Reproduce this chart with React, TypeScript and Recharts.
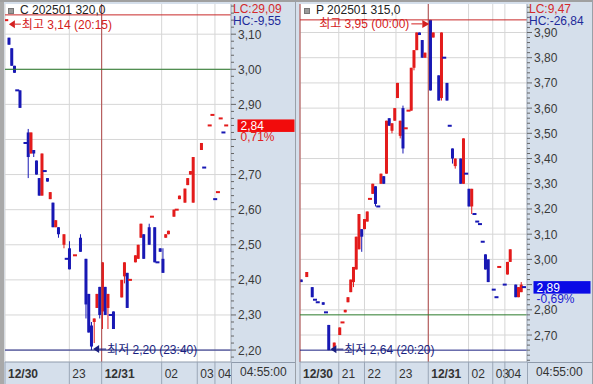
import {
  ComposedChart, Bar, XAxis, YAxis, CartesianGrid,
  ReferenceLine, ReferenceDot,
} from 'recharts'

const FONT = "'Liberation Sans', 'Noto Sans CJK KR', sans-serif"
const RED = '#e31b1b'
const BLUE = '#1818b4'
const AXIS_BG = '#d5dfeb'
const GRID = '#d6d6d6'

// C 202501 320.0 (left)
const cSlot = [0, 1, 2, 3, 4, 5, 7, 8, 9, 10, 11, 12, 13, 14, 15, 16, 17, 18, 19, 21, 22, 23, 25, 27, 29, 30, 31, 32, 33, 34, 35, 36, 37, 38, 39, 42, 43, 44, 45, 47, 48, 49, 50, 52, 53, 54, 55, 56, 57, 58, 59, 61, 62, 63, 65, 66, 67, 68, 71, 72, 74, 75, 76, 77, 78, 79, 80]
const cOpen = [3.14, 3.09, 3.06, 3.01, 2.94, 2.94, 2.79, 2.82, 2.76, 2.77, 2.74, 2.69, 2.64, 2.71, 2.69, 2.63, 2.62, 2.55, 2.55, 2.50, 2.46, 2.49, 2.47, 2.52, 2.46, 2.36, 2.27, 2.28, 2.32, 2.38, 2.31, 2.38, 2.32, 2.30, 2.31, 2.35, 2.41, 2.42, 2.40, 2.45, 2.46, 2.52, 2.53, 2.55, 2.58, 2.55, 2.45, 2.49, 2.46, 2.52, 2.53, 2.58, 2.60, 2.63, 2.62, 2.67, 2.70, 2.62, 2.77, 2.72, 2.84, 2.87, 2.63, 2.65, 2.86, 2.82, 2.84]
const cHigh = [3.14, 3.09, 3.06, 3.01, 2.94, 2.94, 2.79, 2.83, 2.82, 2.77, 2.74, 2.69, 2.76, 2.71, 2.69, 2.65, 2.62, 2.57, 2.55, 2.53, 2.46, 2.51, 2.47, 2.53, 2.46, 2.36, 2.28, 2.29, 2.36, 2.38, 2.45, 2.38, 2.36, 2.30, 2.31, 2.40, 2.45, 2.42, 2.40, 2.47, 2.50, 2.56, 2.53, 2.56, 2.58, 2.55, 2.45, 2.49, 2.49, 2.53, 2.54, 2.60, 2.60, 2.64, 2.66, 2.69, 2.71, 2.75, 2.79, 2.72, 2.84, 2.87, 2.63, 2.65, 2.86, 2.82, 2.84]
const cLow = [3.14, 3.07, 3.01, 2.99, 2.94, 2.89, 2.79, 2.69, 2.76, 2.75, 2.70, 2.64, 2.64, 2.71, 2.68, 2.63, 2.55, 2.55, 2.52, 2.49, 2.46, 2.43, 2.47, 2.48, 2.29, 2.25, 2.20, 2.22, 2.32, 2.29, 2.26, 2.30, 2.26, 2.30, 2.26, 2.35, 2.39, 2.32, 2.40, 2.45, 2.46, 2.52, 2.46, 2.50, 2.58, 2.45, 2.45, 2.48, 2.42, 2.52, 2.53, 2.58, 2.60, 2.63, 2.62, 2.67, 2.70, 2.62, 2.77, 2.72, 2.84, 2.87, 2.63, 2.65, 2.86, 2.82, 2.84]
const cClose = [3.14, 3.07, 3.01, 2.99, 2.94, 2.89, 2.79, 2.75, 2.82, 2.76, 2.70, 2.64, 2.76, 2.71, 2.68, 2.65, 2.55, 2.57, 2.53, 2.53, 2.46, 2.43, 2.47, 2.48, 2.33, 2.25, 2.21, 2.29, 2.36, 2.30, 2.45, 2.30, 2.36, 2.30, 2.26, 2.40, 2.45, 2.32, 2.40, 2.47, 2.50, 2.56, 2.46, 2.50, 2.58, 2.45, 2.45, 2.48, 2.42, 2.53, 2.54, 2.60, 2.60, 2.64, 2.66, 2.69, 2.71, 2.75, 2.79, 2.72, 2.84, 2.87, 2.63, 2.65, 2.86, 2.82, 2.84]
const cDateTicks = [-0.5, 22.9, 34.66, 56.48, 69.43, 75.86]
const cDateLabels = ['12/30', '23', '12/31', '02', '03', '04']
const cPriceTicks = [2.2, 2.3, 2.4, 2.5, 2.6, 2.7, 2.8, 2.9, 3.0, 3.1]

// P 202501 315.0 (right)
const pSlot = [0, 2, 4, 5, 6, 8, 9, 10, 12, 14, 15, 16, 17, 18, 19, 20, 21, 22, 23, 24, 25, 26, 27, 28, 29, 30, 31, 32, 33, 34, 35, 36, 37, 38, 39, 40, 41, 42, 43, 44, 45, 47, 48, 50, 51, 52, 53, 54, 55, 56, 58, 59, 60, 61, 62, 63, 64, 65, 66, 67, 68, 70, 71, 72, 74, 75, 76, 78, 79, 80, 81]
const pOpen = [2.92, 2.93, 2.89, 2.84, 2.83, 2.83, 2.79, 2.74, 2.65, 2.70, 2.75, 2.79, 2.83, 2.87, 2.91, 2.96, 3.04, 3.12, 3.12, 3.15, 3.24, 3.26, 3.29, 3.21, 3.30, 3.33, 3.34, 3.56, 3.51, 3.55, 3.64, 3.49, 3.60, 3.52, 3.59, 3.59, 3.76, 3.83, 3.90, 3.87, 3.80, 3.95, 3.88, 3.73, 3.64, 3.80, 3.70, 3.53, 3.44, 3.37, 3.40, 3.30, 3.34, 3.28, 3.21, 3.18, 3.15, 3.14, 3.07, 3.02, 3.00, 2.88, 2.85, 2.97, 2.90, 2.94, 2.99, 2.90, 2.85, 2.87, 2.89]
const pHigh = [2.92, 2.95, 2.89, 2.84, 2.83, 2.83, 2.79, 2.74, 2.67, 2.73, 2.75, 2.80, 2.85, 2.92, 2.97, 3.09, 3.18, 3.12, 3.16, 3.19, 3.24, 3.30, 3.29, 3.21, 3.34, 3.33, 3.55, 3.56, 3.54, 3.60, 3.70, 3.55, 3.61, 3.52, 3.59, 3.76, 3.83, 3.90, 3.90, 3.87, 3.82, 3.95, 3.90, 3.73, 3.90, 3.80, 3.70, 3.53, 3.44, 3.40, 3.40, 3.48, 3.34, 3.28, 3.28, 3.18, 3.15, 3.14, 3.07, 3.02, 3.00, 2.88, 2.85, 2.97, 2.90, 2.99, 3.04, 2.90, 2.89, 2.91, 2.89]
const pLow = [2.91, 2.93, 2.85, 2.84, 2.83, 2.82, 2.79, 2.64, 2.65, 2.70, 2.75, 2.79, 2.83, 2.87, 2.89, 2.96, 3.04, 3.03, 3.12, 3.15, 3.24, 3.26, 3.21, 3.21, 3.30, 3.30, 3.34, 3.53, 3.50, 3.55, 3.64, 3.48, 3.42, 3.52, 3.59, 3.59, 3.75, 3.83, 3.89, 3.80, 3.80, 3.67, 3.88, 3.63, 3.63, 3.80, 3.63, 3.53, 3.38, 3.36, 3.30, 3.30, 3.34, 3.21, 3.18, 3.18, 3.15, 3.14, 3.07, 2.96, 2.91, 2.88, 2.85, 2.97, 2.90, 2.94, 2.99, 2.85, 2.85, 2.87, 2.89]
const pClose = [2.91, 2.95, 2.85, 2.84, 2.83, 2.82, 2.79, 2.64, 2.67, 2.73, 2.75, 2.80, 2.85, 2.92, 2.97, 3.09, 3.18, 3.09, 3.16, 3.19, 3.24, 3.30, 3.22, 3.21, 3.34, 3.30, 3.55, 3.53, 3.54, 3.60, 3.70, 3.55, 3.44, 3.52, 3.59, 3.76, 3.83, 3.90, 3.89, 3.80, 3.82, 3.67, 3.90, 3.63, 3.90, 3.80, 3.63, 3.53, 3.40, 3.40, 3.30, 3.48, 3.34, 3.21, 3.28, 3.18, 3.15, 3.14, 3.07, 2.96, 2.91, 2.88, 2.85, 2.97, 2.90, 2.99, 3.04, 2.85, 2.89, 2.90, 2.89]
const pDateTicks = [-0.5, 13.6, 22.95, 34.4, 46.15, 60.8, 69.6, 74.0]
const pDateLabels = ['12/30', '21', '22', '23', '12/31', '02', '03', '04']
const pPriceTicks = [2.7, 2.8, 2.9, 3.0, 3.1, 3.2, 3.3, 3.4, 3.5, 3.6, 3.7, 3.8, 3.9]

interface Candle { s: number; o: number; h: number; l: number; c: number; up: boolean }
interface Extreme { s: number; v: number; time: string }

function buildCandles(slot: number[], o: number[], h: number[], l: number[], c: number[]): Candle[] {
  let prevUp = true
  return slot.map((s, i) => {
    let up: boolean
    if (c[i] > o[i]) up = true
    else if (c[i] < o[i]) up = false
    else if (i > 0 && c[i] !== c[i - 1]) up = c[i] > c[i - 1]
    else up = prevUp
    prevUp = up
    return { s, o: o[i], h: h[i], l: l[i], c: c[i], up }
  })
}

const fmt = (v: number) => v.toFixed(2).replace('.', ',')

function CandleShape(props: any) {
  const { x, y, width, height, payload } = props
  const { o, h, l, c, up } = payload as Candle
  const color = up ? RED : BLUE
  const cx = x + width / 2
  if (h === l) {
    return <rect x={cx - 2} y={y - 1} width={4} height={2} fill={color} />
  }
  const k = height / (h - l)
  const py = (v: number) => y + (h - v) * k
  const top = py(Math.max(o, c))
  const bot = py(Math.min(o, c))
  return (
    <g>
      <line x1={cx} x2={cx} y1={y} y2={y + height} stroke={color} strokeWidth={1} />
      <rect x={cx - 1.5} y={top} width={3} height={Math.max(bot - top, 1.5)} fill={color} />
    </g>
  )
}

interface PanelProps {
  title: string
  lc: string
  hc: string
  candles: Candle[]
  width: number
  marginLeft: number
  axisWidth: number
  xDomain: [number, number]
  yDomain: [number, number]
  dateTicks: number[]
  dateLabels: string[]
  priceTicks: number[]
  daySeps: number[]
  topLine: number
  baseLine: number
  high: Extreme
  low: Extreme
  highSide: 'left' | 'right'
  last: number
  pct: number
  leftBar?: boolean
}

const PLOT_H = 384 - 4 - 22

function Panel(p: PanelProps) {
  const minor: number[] = []
  for (let k = Math.ceil(p.yDomain[0] * 50); k <= Math.floor(p.yDomain[1] * 50); k++) minor.push(k / 50)
  const plotRight = p.width - p.axisWidth
  const up = p.pct >= 0
  const pxPerUnit = PLOT_H / (p.yDomain[1] - p.yDomain[0])

  const DateTick = ({ x, y, payload }: any) => {
    const i = p.dateTicks.findIndex(t => Math.abs(t - payload.value) < 1e-6)
    const label = p.dateLabels[i] ?? ''
    return (
      <g>
        <line x1={x} x2={x} y1={y} y2={y + 22} stroke="#9aa6b6" />
        <text x={x + 3} y={y + 16} fontSize={12} fontFamily={FONT} fill="#333"
          fontWeight={label.includes('/') ? 700 : 400}>{label}</text>
      </g>
    )
  }

  const PriceTick = ({ x, y, payload }: any) => {
    const major = p.priceTicks.some(t => Math.abs(t - payload.value) < 1e-6)
    // labels under the last-price tag are covered in the original
    const off = (p.last - payload.value) * pxPerUnit
    const covered = off > -8 && off < 20
    return (
      <g>
        <line x1={x} x2={x + (major ? 5 : 3)} y1={y} y2={y} stroke="#666" />
        {major && !covered && (
          <text x={x + 7} y={y + 4.5} fontSize={12} fontFamily={FONT} fill="#3a3a3a">{fmt(payload.value)}</text>
        )}
      </g>
    )
  }

  const HighMark = ({ cx, cy }: any) => {
    const y = cy + 4
    const text = `최고 ${fmt(p.high.v)} (${p.high.time})`
    if (p.highSide === 'left') {
      const tip = cx + 2.5
      return (
        <g>
          <path d={`M${tip},${y} L${tip + 6},${y - 4} L${tip + 6},${y + 4} Z`} fill="#d42020" />
          <line x1={tip + 6} x2={tip + 12} y1={y} y2={y} stroke="#d42020" />
          <text x={tip + 13} y={y + 4.5} fontSize={12} fontFamily={FONT} fill="#d42020">{text}</text>
        </g>
      )
    }
    const tip = cx - 1.3
    return (
      <g>
        <path d={`M${tip},${y} L${tip - 7},${y - 4} L${tip - 7},${y + 4} Z`} fill="#d42020" />
        <line x1={tip - 7} x2={tip - 18} y1={y} y2={y} stroke="#d42020" />
        <text x={tip - 20} y={y + 4.5} fontSize={12} fontFamily={FONT} fill="#d42020" textAnchor="end">{text}</text>
      </g>
    )
  }

  const LowMark = ({ cx, cy }: any) => {
    const y = cy - 1
    const tip = cx + 1.5
    return (
      <g>
        <path d={`M${tip},${y} L${tip + 6},${y - 4} L${tip + 6},${y + 4} Z`} fill="#1a1f80" />
        <line x1={tip + 6} x2={tip + 13} y1={y} y2={y} stroke="#1a1f80" />
        <text x={tip + 14} y={y + 4.5} fontSize={12} fontFamily={FONT} fill="#1a1f80">
          {`최저 ${fmt(p.low.v)} (${p.low.time})`}
        </text>
      </g>
    )
  }

  const PriceTag = (props: any) => {
    const vb = props.viewBox
    const x = vb.x + vb.width + 6.5
    const y = vb.y
    return (
      <g>
        <rect x={x} y={y - 6} width={57} height={12.5} fill={up ? '#f20c0c' : '#0b0be6'} />
        <text x={x + 3} y={y + 4.5} fontSize={12} fontFamily={FONT} fill="#fff">{fmt(p.last)}</text>
        <text x={x + 3} y={y + 16} fontSize={12} fontFamily={FONT} fill={up ? '#e02020' : '#1a1ad0'}>
          {`${fmt(p.pct)}%`}
        </text>
      </g>
    )
  }

  return (
    <div style={{ position: 'relative', width: p.width, height: 384 }}>
      <ComposedChart width={p.width} height={384} data={p.candles}
        margin={{ top: 4, right: 0, bottom: 0, left: p.marginLeft }}>
        <CartesianGrid stroke={GRID} fill="#ffffff" horizontalValues={p.priceTicks} verticalValues={p.dateTicks} />
        <XAxis type="number" dataKey="s" domain={p.xDomain} ticks={p.dateTicks} interval={0}
          allowDataOverflow height={22} tickSize={0} tickMargin={0} tickLine={false}
          axisLine={{ stroke: '#8e9aab' }} tick={DateTick} />
        <YAxis orientation="right" domain={p.yDomain} ticks={minor} interval={0} allowDataOverflow
          width={p.axisWidth} tickSize={0} tickMargin={0} tickLine={false}
          axisLine={{ stroke: '#9aa5b4' }} tick={PriceTick} />
        {p.daySeps.map(d => (
          <ReferenceLine key={d} x={d} stroke="#b04848" strokeWidth={1} />
        ))}
        <ReferenceLine y={p.baseLine} stroke="#2b7a2b" strokeWidth={1} />
        <ReferenceLine y={p.low.v} stroke="#1a1f80" strokeWidth={1} />
        <ReferenceLine y={p.topLine} stroke="#c82828" strokeWidth={1} />
        <Bar dataKey={(d: Candle) => [d.l, d.h]} barSize={3} shape={CandleShape} isAnimationActive={false} />
        <ReferenceDot x={p.high.s} y={p.high.v} r={0} shape={HighMark} />
        <ReferenceDot x={p.low.s} y={p.low.v} r={0} shape={LowMark} />
        <ReferenceLine y={p.last} stroke="none" label={PriceTag} />
      </ComposedChart>

      {p.leftBar && (
        <div style={{ position: 'absolute', left: 0, top: 0, width: 4, height: 384, background: '#a9a9a9' }} />
      )}
      <div style={{ position: 'absolute', left: 0, top: 0, width: p.width, height: 2, background: '#a0a0a0' }} />
      <div style={{ position: 'absolute', left: plotRight, top: 362, width: p.axisWidth, height: 1, background: '#8e9aab' }} />
      <div style={{ position: 'absolute', left: plotRight, top: 362, width: 1, height: 22, background: '#9aa6b6' }} />
      <div style={{ position: 'absolute', left: p.width - 1, top: 0, width: 1, height: 384, background: '#9aa0a8' }} />

      <div style={{ position: 'absolute', left: 8, top: 8, width: 4, height: 4, background: '#9a9a9a', border: '1px solid #777' }} />
      <div style={{ position: 'absolute', left: 20, top: 3, fontSize: 12, lineHeight: '14px', color: '#222', whiteSpace: 'nowrap' }}>{p.title}</div>
      <div style={{ position: 'absolute', left: plotRight + 2, top: 3, fontSize: 12, lineHeight: '13px', color: '#d42a2a', whiteSpace: 'nowrap' }}>{p.lc}</div>
      <div style={{ position: 'absolute', left: plotRight + 2, top: 15, fontSize: 12, lineHeight: '13px', color: '#1e2a9a', whiteSpace: 'nowrap' }}>{p.hc}</div>
      <div style={{ position: 'absolute', left: plotRight + 9, top: 365, fontSize: 12, lineHeight: '14px', color: '#333', whiteSpace: 'nowrap' }}>04:55:00</div>
    </div>
  )
}

export default function App() {
  const cCandles = buildCandles(cSlot, cOpen, cHigh, cLow, cClose)
  const pCandles = buildCandles(pSlot, pOpen, pHigh, pLow, pClose)
  return (
    <div style={{ position: 'absolute', left: 0, top: 0, width: 593, height: 384, background: AXIS_BG, overflow: 'hidden', fontFamily: FONT }}>
      <div style={{ position: 'absolute', left: 0, top: 0 }}>
        <Panel
          title="C 202501 320,0" lc="LC:29,09" hc="HC:-9,55"
          candles={cCandles} width={296} marginLeft={5} axisWidth={65}
          xDomain={[-0.5, 81.7]} yDomain={[2.166, 3.186]}
          dateTicks={cDateTicks} dateLabels={cDateLabels} priceTicks={cPriceTicks}
          daySeps={[34.66]} topLine={3.155} baseLine={3.0}
          high={{ s: 0, v: 3.14, time: '20:15' }} low={{ s: 31, v: 2.2, time: '23:40' }}
          highSide="left" last={2.84} pct={0.71} leftBar
        />
      </div>
      <div style={{ position: 'absolute', left: 296, top: 0 }}>
        <Panel
          title="P 202501 315,0" lc="LC:9,47" hc="HC:-26,84"
          candles={pCandles} width={297} marginLeft={4} axisWidth={66}
          xDomain={[-0.5, 82.05]} yDomain={[2.593, 4.013]}
          dateTicks={pDateTicks} dateLabels={pDateLabels} priceTicks={pPriceTicks}
          daySeps={[-0.5, 46.15]} topLine={3.95} baseLine={2.78}
          high={{ s: 47, v: 3.95, time: '00:00' }} low={{ s: 10, v: 2.64, time: '20:20' }}
          highSide="right" last={2.89} pct={-0.69}
        />
      </div>
    </div>
  )
}
